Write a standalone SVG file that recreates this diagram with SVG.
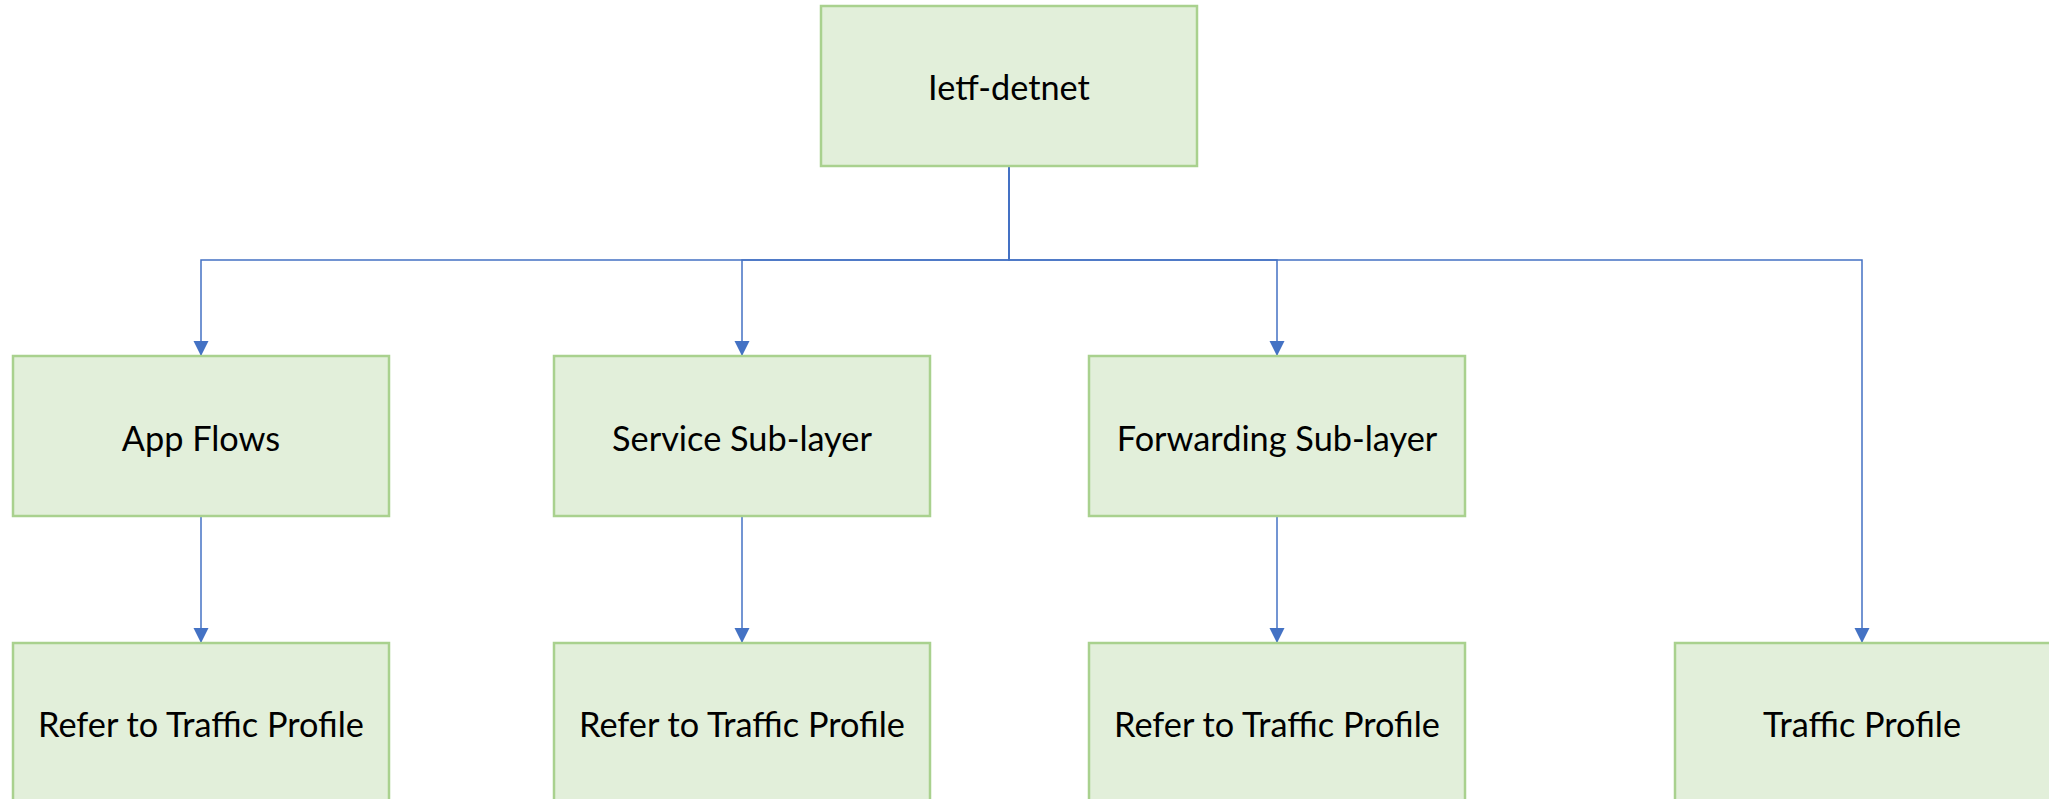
<svg xmlns="http://www.w3.org/2000/svg" width="2049" height="799" viewBox="0 0 2049 799">
<style>
.box{fill:#E2EFDA;stroke:#A9D18E;stroke-width:2.5}
.lbl{font-family:Lato,"Liberation Sans",sans-serif;font-size:34.3px;fill:#000;text-anchor:middle}
.edge{fill:none;stroke:#4472C4;stroke-width:1.5}
</style>
<defs>
<marker id="arr" markerUnits="userSpaceOnUse" markerWidth="16" markerHeight="16" refX="15" refY="7.5" orient="auto">
<path d="M0,0 L15,7.5 L0,15 z" fill="#4472C4"/>
</marker>
</defs>
<rect width="2049" height="799" fill="#fff"/>
<g id="connectors">
<path class="edge" marker-end="url(#arr)" d="M1009,166 V260 H201 V356"/>
<path class="edge" marker-end="url(#arr)" d="M1009,166 V260 H742 V356"/>
<path class="edge" marker-end="url(#arr)" d="M1009,166 V260 H1277 V356"/>
<path class="edge" marker-end="url(#arr)" d="M1009,166 V260 H1862 V643"/>
<path class="edge" marker-end="url(#arr)" d="M201,516 V643"/>
<path class="edge" marker-end="url(#arr)" d="M742,516 V643"/>
<path class="edge" marker-end="url(#arr)" d="M1277,516 V643"/>
</g>
<g id="n-root"><rect class="box" x="821" y="6" width="376" height="160"/><text class="lbl" x="1009" y="100">Ietf-detnet</text></g>
<g id="n-app"><rect class="box" x="13" y="356" width="376" height="160"/><text class="lbl" x="201" y="451">App Flows</text></g>
<g id="n-svc"><rect class="box" x="554" y="356" width="376" height="160"/><text class="lbl" x="742" y="451">Service Sub-layer</text></g>
<g id="n-fwd"><rect class="box" x="1089" y="356" width="376" height="160"/><text class="lbl" x="1277" y="451">Forwarding Sub-layer</text></g>
<g id="n-ref1"><rect class="box" x="13" y="643" width="376" height="160"/><text class="lbl" x="201" y="737">Refer to Traffic Profile</text></g>
<g id="n-ref2"><rect class="box" x="554" y="643" width="376" height="160"/><text class="lbl" x="742" y="737">Refer to Traffic Profile</text></g>
<g id="n-ref3"><rect class="box" x="1089" y="643" width="376" height="160"/><text class="lbl" x="1277" y="737">Refer to Traffic Profile</text></g>
<g id="n-tp"><rect class="box" x="1675" y="643" width="376" height="160"/><text class="lbl" x="1862" y="737">Traffic Profile</text></g>
</svg>
